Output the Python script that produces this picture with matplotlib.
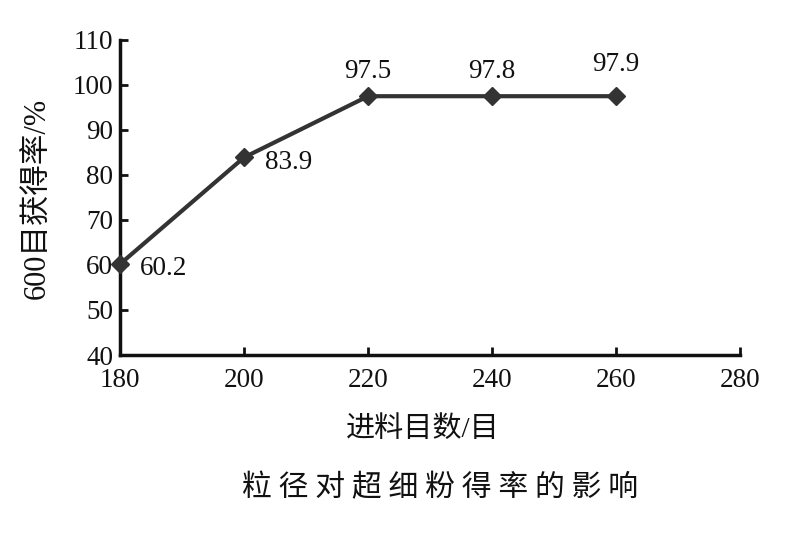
import matplotlib
matplotlib.use('Agg')
import matplotlib.pyplot as plt

plt.rcParams['font.family'] = ['Liberation Serif', 'Noto Sans CJK SC']

# data
mesh = [180, 200, 220, 240, 260]
rate = [60.2, 83.9, 97.5, 97.8, 97.9]
labels = ['60.2', '83.9', '97.5', '97.8', '97.9']
xticks = [180, 200, 220, 240, 260, 280]
yticks = [40, 50, 60, 70, 80, 90, 100, 110]

fig = plt.figure(figsize=(7.86, 5.34), dpi=100)
ax = fig.add_axes([0.1527, 0.3352, 0.789, 0.590])

# all plotted points sit near 97.5 in the original
plot_vals = [rate[0], rate[1], rate[2], rate[2], rate[2]]
ax.plot(mesh, plot_vals, color='#333333', lw=3, marker='D', ms=9,
        clip_on=False, zorder=3)

offs = [(14, -3, 'left', 'center'), (15, -4, 'left', 'center'),
        (0, 18, 'center', 'center'), (0, 18, 'center', 'center'),
        (0, 23, 'center', 'center')]
for x, y, s, (dx, dy, ha, va) in zip(mesh, plot_vals, labels, offs):
    ax.annotate(s, (x, y), xytext=(dx, dy), textcoords='offset points',
                ha=ha, va=va, fontsize=19.5, color='#111111')

ax.set_xlim(180, 280)
ax.set_ylim(40, 110)
ax.set_xticks(xticks)
ax.set_yticks(yticks)
ax.tick_params(direction='in', length=6, width=2, labelsize=19.5,
               colors='#111111')
ax.tick_params(axis='x', pad=9)
ax.tick_params(axis='y', pad=5)
for sp in ['top', 'right']:
    ax.spines[sp].set_visible(False)
for sp in ['left', 'bottom']:
    ax.spines[sp].set_linewidth(2.5)
    ax.spines[sp].set_color('#111111')

fig.text(0.049, 0.629, '600目获得率/%', rotation=90, ha='center', va='center',
         fontsize=22, color='#111111')
fig.text(0.538, 0.195, '进料目数/目', ha='center', va='center',
         fontsize=21, color='#111111')
fig.text(0.56, 0.086, '粒 径 对 超 细 粉 得 率 的 影 响', ha='center', va='center',
         fontsize=21.5, color='#111111', family='Noto Sans CJK SC')

plt.savefig('out.png', dpi=100)
